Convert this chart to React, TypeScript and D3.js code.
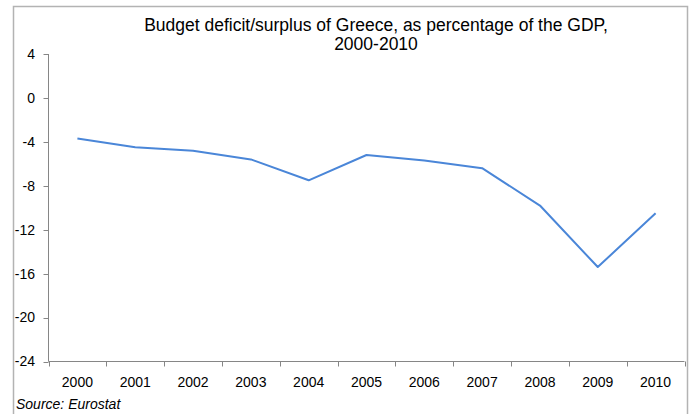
import React from "react";
import * as d3 from "d3";

const years = ["2000","2001","2002","2003","2004","2005","2006","2007","2008","2009","2010"];
const deficit = [-3.7,-4.5,-4.8,-5.6,-7.5,-5.2,-5.7,-6.4,-9.8,-15.4,-10.5];
const yTicks = [4,0,-4,-8,-12,-16,-20,-24];
const titleLines = ["Budget deficit/surplus of Greece, as percentage of the GDP,", "2000-2010"];
const source = "Source: Eurostat";

export default function App() {
  const W = 692, H = 414;
  const left = 48.5, right = 684.5, top = 54, bottom = 361.5;
  const x = d3.scaleBand<string>().domain(years).range([left, right]);
  const y = d3.scaleLinear().domain([-24, 4]).range([bottom, top]);
  const line = d3.line<number>()
    .x((_, i) => (x(years[i]) as number) + x.bandwidth() / 2)
    .y(d => y(d));
  const font = "Liberation Sans, Arial, sans-serif";
  const axisColor = "#868686";
  const bounds = years.map(yr => x(yr) as number).concat([right]);
  return (
    <svg width={W} height={H} style={{ position: "absolute", left: 0, top: 0 }} fontFamily={font}>
      <rect x={0} y={0} width={W} height={H} fill="#fff" />
      <path d={`M13.5,${H} V6.5 H687.5 V${H}`} fill="none" stroke="#b3b3b3" strokeWidth={1.5} />
      {titleLines.map((t, i) => (
        <text key={i} x={376} y={31 + i * 19} textAnchor="middle" fontSize={17.5} fill="#000">{t}</text>
      ))}
      <line x1={left} x2={left} y1={top} y2={bottom} stroke={axisColor} />
      {yTicks.map(v => (
        <g key={v}>
          <line x1={left - 5} x2={left} y1={Math.round(y(v)) + 0.5} y2={Math.round(y(v)) + 0.5} stroke={axisColor} />
          <text x={35} y={y(v)} dy="0.35em" textAnchor="end" fontSize={14} fill="#000">{v}</text>
        </g>
      ))}
      <line x1={left} x2={right} y1={bottom} y2={bottom} stroke={axisColor} />
      {bounds.map((b, i) => (
        <line key={i} x1={Math.round(b) + 0.5} x2={Math.round(b) + 0.5} y1={bottom} y2={bottom + 5} stroke={axisColor} />
      ))}
      {years.map(yr => (
        <text key={yr} x={(x(yr) as number) + x.bandwidth() / 2} y={387} textAnchor="middle" fontSize={14} fill="#000">{yr}</text>
      ))}
      <path d={line(deficit) || ""} fill="none" stroke="#4a86d8" strokeWidth={2} strokeLinejoin="round" />
      <text x={16} y={409} fontSize={14} fontStyle="italic" fill="#000">{source}</text>
    </svg>
  );
}
